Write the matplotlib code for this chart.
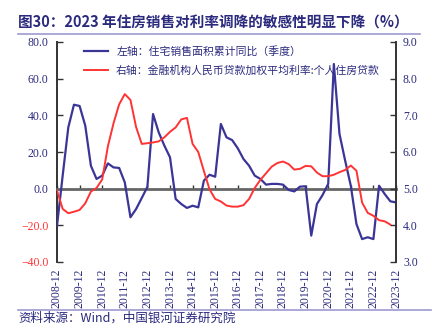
import numpy as np
import matplotlib.pyplot as plt
from matplotlib.lines import Line2D

plt.rcParams['font.family'] = ['Noto Sans CJK SC', 'DejaVu Sans']

# 季度序列：2008-12 起
quarters = [f"{y}-{m:02d}" for y in range(2008, 2024) for m in (3, 6, 9, 12)][3:]

# 住宅销售面积累计同比（%），左轴
sales_yoy = [-20.3, 7.0, 33.4, 45.8, 45.1, 34.4, 12.5, 5.3, 7.1, 13.8,
             11.6, 11.3, 3.4, -15.6, -11.1, -5.1, 1.0, 40.7, 30.7, 23.5,
             17.1, -5.6, -8.4, -10.5, -9.3, -10.2, 4.4, 7.6, 6.5, 35.3,
             28.0, 26.5, 22.0, 16.2, 12.5, 7.1, 5.3, 2.2, 2.6, 2.6,
             2.2, -0.7, -1.5, 1.1, 1.3, -25.6, -8.4, -3.5, 2.6, 68.0,
             29.8, 15.3, 1.6, -19.3, -27.5, -26.5, -27.5, 1.6, -2.9, -6.9,
             -7.5]

# 个人住房贷款加权平均利率（%），右轴
mortgage_rate = [4.95, 4.45, 4.33, 4.37, 4.42, 4.60, 4.92, 5.02, 5.25, 6.15,
                 6.78, 7.30, 7.58, 7.42, 6.68, 6.22, 6.24, 6.26, 6.29, 6.40,
                 6.55, 6.67, 6.89, 6.93, 6.22, 6.00, 5.48, 4.98, 4.72, 4.65,
                 4.54, 4.51, 4.51, 4.55, 4.72, 5.02, 5.24, 5.42, 5.60, 5.70,
                 5.74, 5.67, 5.52, 5.54, 5.62, 5.61, 5.44, 5.34, 5.34, 5.38,
                 5.45, 5.51, 5.63, 5.49, 4.62, 4.34, 4.26, 4.14, 4.11, 4.02]

navy = '#2B2A7E'
blue = '#3B3597'
red = '#FF3333'
serif = ['Liberation Serif', 'DejaVu Serif']

fig = plt.figure(figsize=(4.33, 3.30), dpi=100)
ax = fig.add_axes([57 / 433, 1 - 262 / 330, (396 - 57) / 433, 220 / 330])
ax2 = ax.twinx()

x = np.arange(len(sales_yoy))
ax.plot(x, sales_yoy, color=blue, lw=1.6, zorder=3)
ax2.plot(np.arange(len(mortgage_rate)), mortgage_rate, color=red, lw=1.4, zorder=3)

ax.set_xlim(0, len(sales_yoy) - 1)
ax.set_ylim(-40, 80)
ax2.set_ylim(3, 9)
ax.set_yticks(np.arange(-40, 81, 20))
ax2.set_yticks(np.arange(3, 9.1, 1))

for a in (ax, ax2):
    a.patch.set_visible(False)
    a.spines['top'].set_visible(False)
ax.spines['right'].set_visible(False)
ax2.spines['left'].set_visible(False)
ax2.spines['bottom'].set_visible(False)
ax.spines['left'].set_linewidth(1.4)
ax2.spines['right'].set_linewidth(1.4)
ax.spines['left'].set_color('#333333')
ax2.spines['right'].set_color('#333333')

# 零轴
ax.spines['bottom'].set_position(('data', 0))
ax.spines['bottom'].set_color('#666666')
ax.spines['bottom'].set_linewidth(2.0)
ticks = np.arange(0, len(sales_yoy), 4)
ax.set_xticks(ticks)
ax.tick_params(axis='x', direction='in', length=3, width=1, color='#333333',
               labelbottom=False)

ax.tick_params(axis='y', direction='in', length=4, width=1, color='#333333', pad=6)
ax2.tick_params(axis='y', direction='in', length=4, width=1, color='#333333', pad=5)
ax.set_yticklabels([f"{v:.1f}".replace('-', '\u2212') for v in np.arange(-40, 81, 20)])
for lab, v in zip(ax.get_yticklabels(), np.arange(-40, 81, 20)):
    lab.set_color(red if v < 0 else navy)
    lab.set_fontfamily(serif)
    lab.set_fontsize(8.5)
ax2.set_yticklabels([f"{v:.1f}" for v in np.arange(3, 9.1, 1)])
for lab in ax2.get_yticklabels():
    lab.set_color(navy)
    lab.set_fontfamily(serif)
    lab.set_fontsize(8.5)

sec = ax.secondary_xaxis(0)
sec.set_xticks(ticks)
sec.set_xticklabels([quarters[i] for i in ticks], rotation=90, color=navy,
                    fontfamily=serif, fontsize=8.5)
sec.tick_params(length=0, pad=5)
sec.spines['bottom'].set_visible(False)

handles = [Line2D([], [], color=blue, lw=1.6), Line2D([], [], color=red, lw=1.4)]
ax.legend(handles, ['左轴：住宅销售面积累计同比（季度）',
                    '右轴：金融机构人民币贷款加权平均利率:个人住房贷款'],
          loc='upper left', bbox_to_anchor=(0.05, 1.025), frameon=False,
          fontsize=7.8, handlelength=2.2, labelcolor=navy, labelspacing=0.75)

fig.text(0.042, 0.933, '图30：2023 年住房销售对利率调降的敏感性明显下降（%）',
         fontsize=10.5, fontweight='bold', color=navy, va='center')
fig.add_artist(Line2D([0.042, 0.97], [0.898, 0.898], color='#9E9AD0', lw=1.2))
fig.add_artist(Line2D([0.042, 0.995], [0.062, 0.062], color='#9E9AD0', lw=1.2))
fig.text(0.042, 0.035, '资料来源：Wind，中国银河证券研究院', fontsize=9,
         style='italic', color=navy, va='center')

fig.savefig('out.png', dpi=100)
